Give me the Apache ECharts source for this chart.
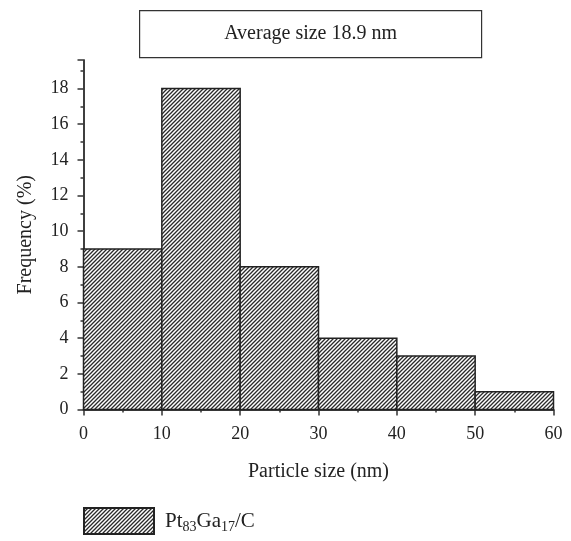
<!DOCTYPE html>
<html>
<head>
<meta charset="utf-8">
<script src="https://cdn.jsdelivr.net/npm/echarts@6/dist/echarts.min.js"></script>
<style>
    html, body {margin: 0; padding: 0; background: #fff;}
    #divHist {width: 571px; height: 541px;}
</style>
</head>
<body>
<div id="divHist"></div>
<script>
// histogram bins (nm) and frequency (%)
var binStart = [0, 10, 20, 30, 40, 50];
var binEnd = [10, 20, 30, 40, 50, 60];
var frequency = [9, 18, 8, 4, 3, 1];
var xTicks = [0, 10, 20, 30, 40, 50, 60];
var yTicks = [0, 2, 4, 6, 8, 10, 12, 14, 16, 18];
var seriesName = 'Pt83Ga17/C';
var titleText = 'Average size 18.9 nm';

var fontFam = '"Liberation Serif", "DejaVu Serif", serif';

// hatch pattern ///
function makeHatch() {
    var c = document.createElement('canvas');
    c.width = 4;
    c.height = 4;
    var ctx = c.getContext('2d');
    ctx.fillStyle = '#fff';
    ctx.fillRect(0, 0, 4, 4);
    ctx.strokeStyle = '#2a2a2a';
    ctx.lineWidth = 1.3;
    ctx.beginPath();
    ctx.moveTo(-1, 5); ctx.lineTo(5, -1);
    ctx.moveTo(-1, 1); ctx.lineTo(1, -1);
    ctx.moveTo(3, 5); ctx.lineTo(5, 3);
    ctx.stroke();
    return c;
}
var hatch = {image: makeHatch(), repeat: 'repeat'};

var histData = [];
for (var i = 0; i < frequency.length; i++) {
    histData.push([binStart[i], binEnd[i], frequency[i]]);
}

var myChart = echarts.init(document.getElementById('divHist'));

var axisLineStyle = {color: '#333', width: 1.5};

var option = {
    animation: false,
    graphic: [{
        type: 'group',
        left: 139,
        top: 10,
        children: [{
            type: 'rect',
            shape: {x: 0, y: 0, width: 342, height: 47},
            style: {fill: '#fff', stroke: '#333', lineWidth: 1.2}
        }, {
            type: 'text',
            x: 171,
            y: 23.5,
            style: {
                text: titleText,
                font: '20px ' + fontFam,
                fill: '#222',
                align: 'center',
                verticalAlign: 'middle'
            }
        }]
    }],
    grid: {
        left: 83.5,
        right: 17.5,
        top: 60,
        bottom: 131.5
    },
    legend: {
        left: 83,
        top: 507,
        padding: 0,
        icon: 'rect',
        itemWidth: 70,
        itemHeight: 26,
        itemGap: 15,
        data: [seriesName],
        formatter: function () {
            return '{a|Pt}{s|83}{a|Ga}{s|17}{a|/C}';
        },
        textStyle: {
            padding: [0, 0, 0, 6],
            rich: {
                a: {fontFamily: fontFam, fontSize: 21, color: '#222'},
                s: {fontFamily: fontFam, fontSize: 14, color: '#222', verticalAlign: 'bottom', padding: [12, 0, 0, 0]}
            }
        }
    },
    xAxis: [{
        type: 'value',
        min: 0,
        max: 60,
        interval: 10,
        position: 'bottom',
        name: 'Particle size (nm)',
        nameLocation: 'middle',
        nameGap: 52,
        nameTextStyle: {fontFamily: fontFam, fontSize: 20, color: '#222'},
        axisLine: {lineStyle: axisLineStyle},
        axisTick: {length: 6, lineStyle: {color: '#333', width: 1.5}},
        minorTick: {show: true, splitNumber: 2, length: 3, lineStyle: {color: '#333', width: 1.5}},
        axisLabel: {fontFamily: fontFam, fontSize: 18, color: '#222', margin: 16},
        splitLine: {show: false}
    }, {
        type: 'value',
        min: 0,
        max: 60,
        interval: 10,
        position: 'top',
        axisLine: {lineStyle: axisLineStyle},
        axisTick: {inside: true, length: 6, lineStyle: {color: '#333', width: 1.5}},
        axisLabel: {show: false},
        splitLine: {show: false}
    }],
    yAxis: [{
        type: 'value',
        min: 0,
        max: 19.6,
        interval: 2,
        position: 'left',
        name: 'Frequency (%)',
        nameLocation: 'middle',
        nameGap: 48,
        nameTextStyle: {fontFamily: fontFam, fontSize: 20, color: '#222'},
        axisLine: {show: true, lineStyle: axisLineStyle},
        axisTick: {show: true, length: 6, lineStyle: {color: '#333', width: 1.5}},
        minorTick: {show: true, splitNumber: 2, length: 3, lineStyle: {color: '#333', width: 1.5}},
        axisLabel: {
            fontFamily: fontFam, fontSize: 18, color: '#222', margin: 15,
            showMaxLabel: false,
            formatter: function (v) {
                return yTicks.indexOf(v) >= 0 ? String(v) : '';
            }
        },
        splitLine: {show: false}
    }, {
        type: 'value',
        min: 0,
        max: 19.6,
        interval: 2,
        position: 'right',
        axisLine: {show: true, lineStyle: axisLineStyle},
        axisTick: {show: true, inside: true, length: 6, lineStyle: {color: '#333', width: 1.5}},
        axisLabel: {show: false},
        splitLine: {show: false}
    }],
    series: [{
        name: seriesName,
        type: 'custom',
        xAxisIndex: 0,
        yAxisIndex: 0,
        itemStyle: {color: hatch, borderColor: '#222', borderWidth: 1.5},
        encode: {x: [0, 1], y: 2},
        renderItem: function (params, api) {
            var p0 = api.coord([api.value(0), api.value(2)]);
            var p1 = api.coord([api.value(1), 0]);
            return {
                type: 'rect',
                shape: {x: p0[0], y: p0[1], width: p1[0] - p0[0], height: p1[1] - p0[1]},
                style: {fill: hatch, stroke: '#222', lineWidth: 1.5}
            };
        },
        data: histData
    }]
};
myChart.setOption(option);
</script>
</body>
</html>
